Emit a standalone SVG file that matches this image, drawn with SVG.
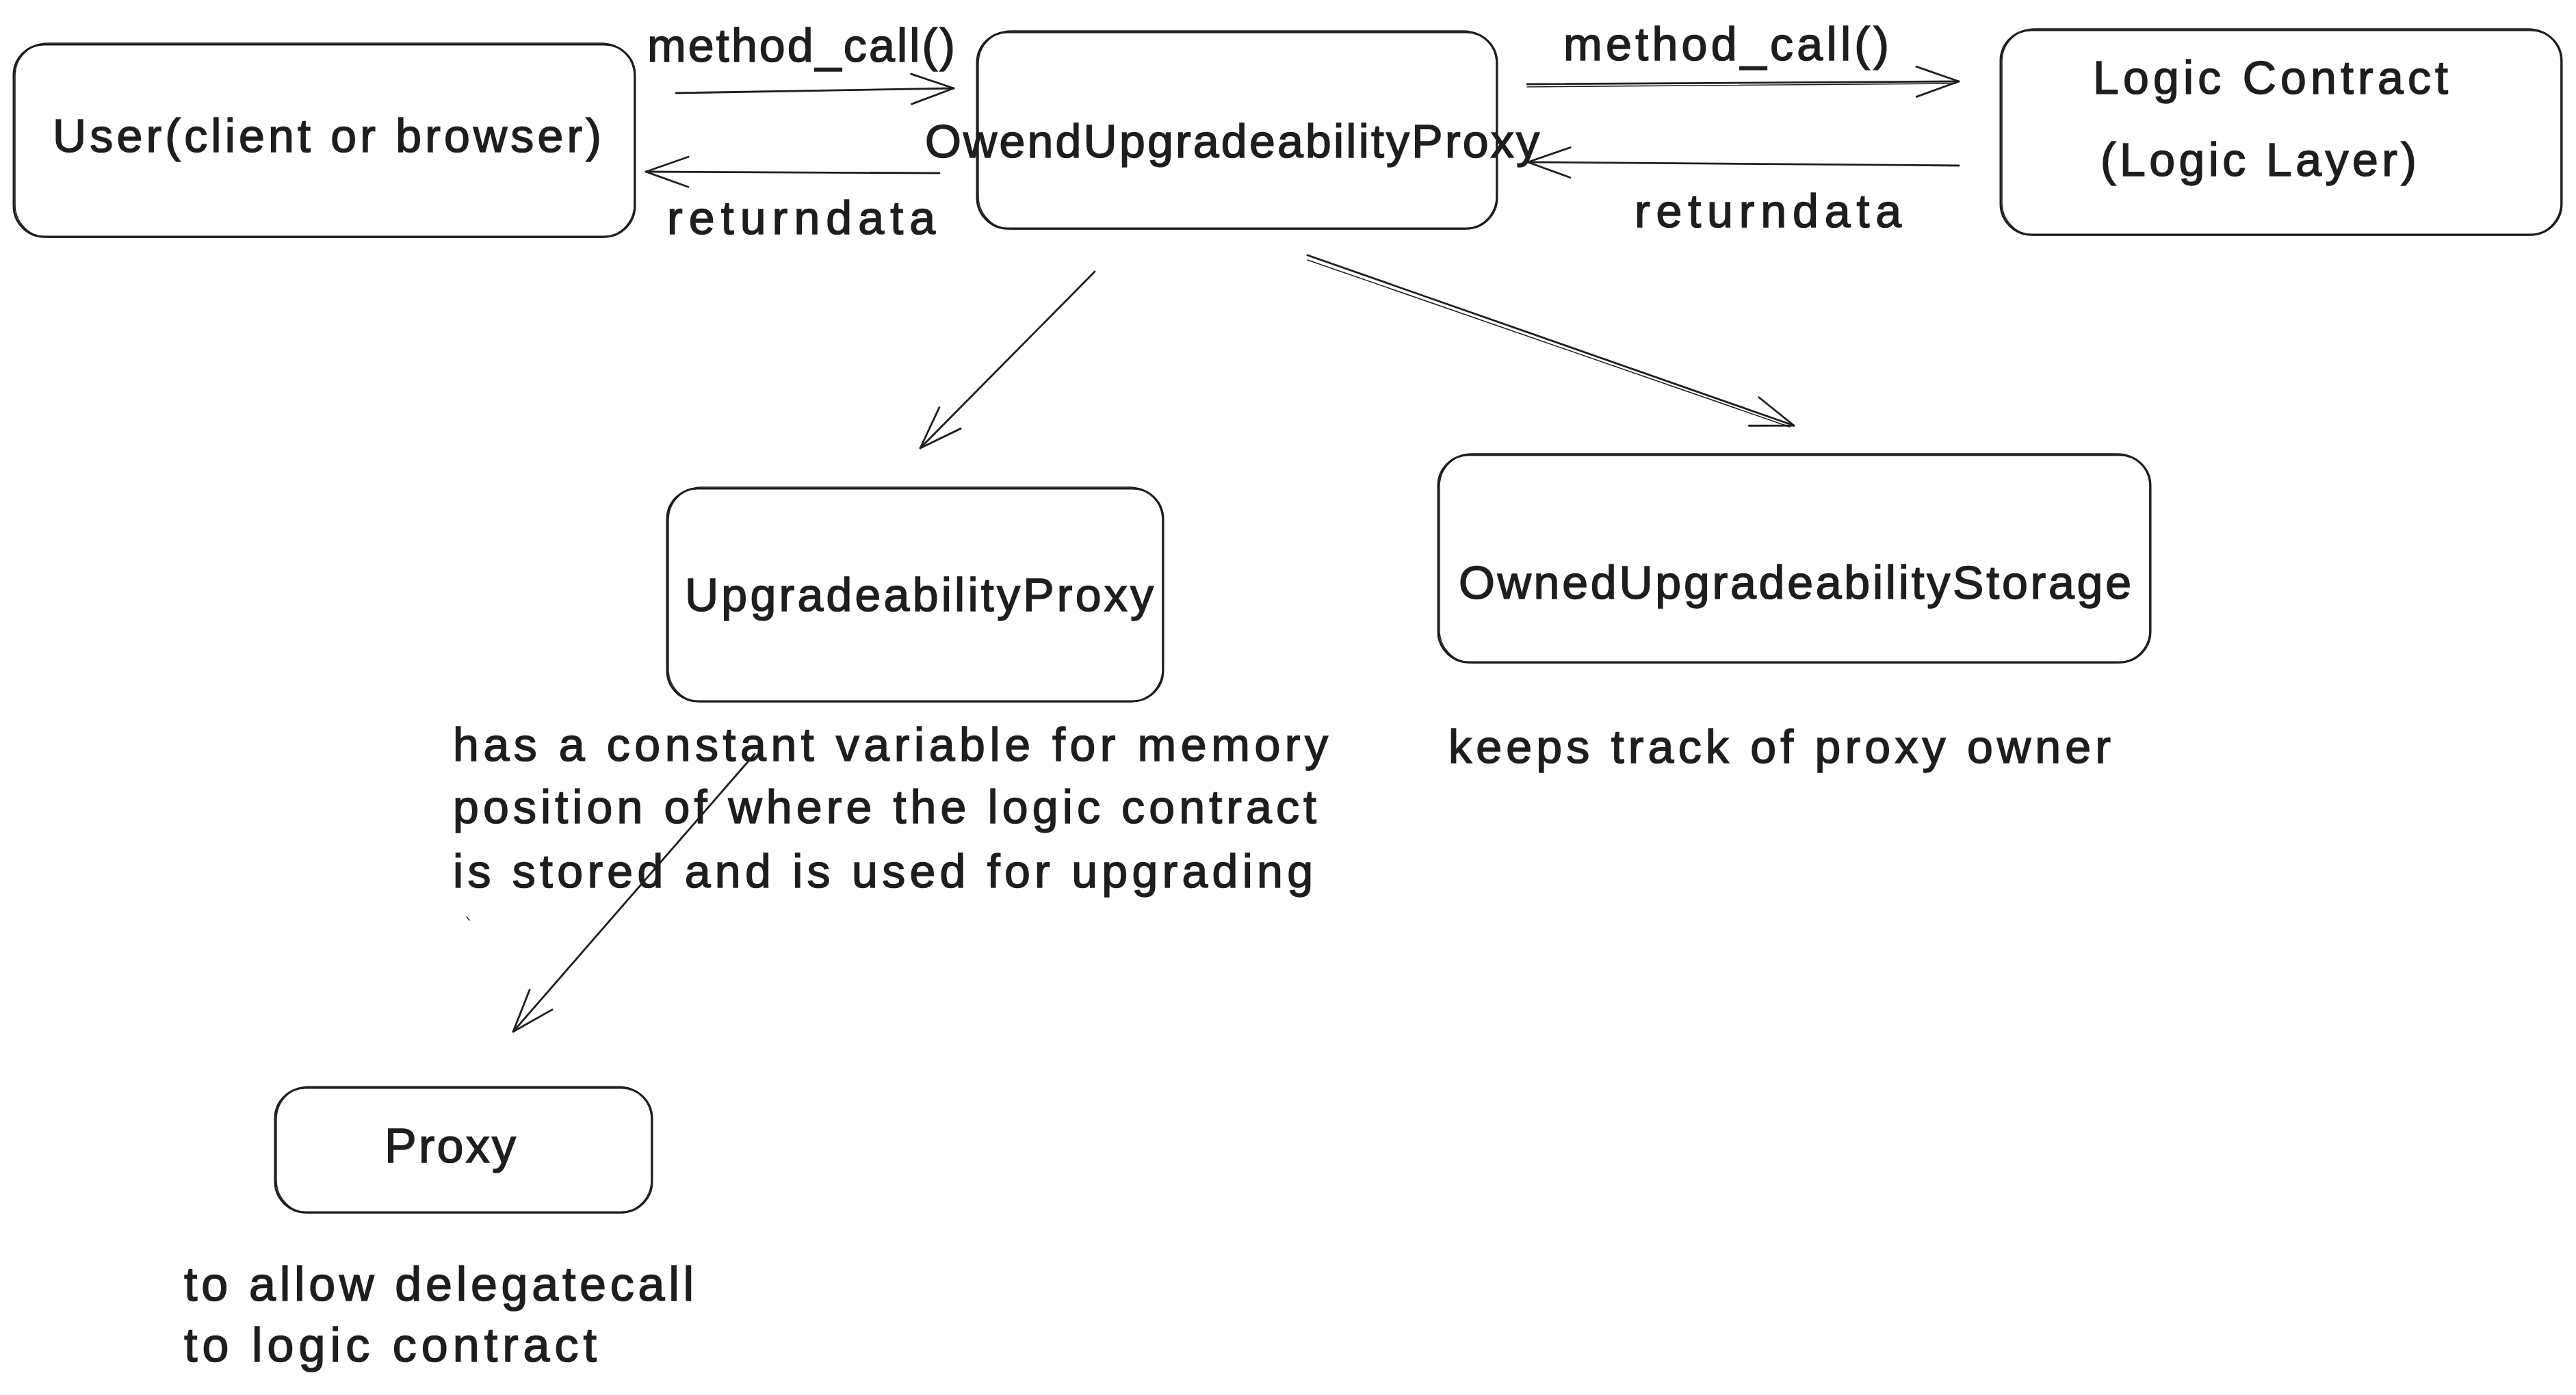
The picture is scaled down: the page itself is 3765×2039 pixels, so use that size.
<svg xmlns="http://www.w3.org/2000/svg" width="3765" height="2039" viewBox="0 0 3765 2039">
  <style>
    .box { fill: none; stroke: #1e1e1e; stroke-width: 3; }
    .sk { fill: none; stroke: #1e1e1e; stroke-width: 1.5; }
    .ln { fill: none; stroke: #1e1e1e; stroke-width: 2.8; stroke-linecap: round; }
    .ln2 { fill: none; stroke: #1e1e1e; stroke-width: 1.5; stroke-linecap: round; }
    .t { font-family: "Liberation Sans", Arial, sans-serif; font-size: 68px; fill: #1e1e1e; stroke: #1e1e1e; stroke-width: 1.6; }
    .t2 { font-family: "Liberation Sans", Arial, sans-serif; font-size: 70px; fill: #1e1e1e; stroke: #1e1e1e; stroke-width: 1.6; }
  </style>
  <defs>
    <marker id="arr" markerUnits="userSpaceOnUse" markerWidth="90" markerHeight="70" viewBox="-75 -35 90 70" refX="0" refY="0" orient="auto">
      <path d="M -62 -22 L 0 0 L -62 22" fill="none" stroke="#1e1e1e" stroke-width="2.8" stroke-linecap="round" stroke-linejoin="round"/>
    </marker>
  </defs>
  <rect x="0" y="0" width="3765" height="2039" fill="#ffffff"/>

  <g id="node-user">
    <rect class="box" x="20" y="65" width="908" height="281" rx="45"/>
    <rect class="sk" x="22" y="63" width="905" height="284" rx="48"/>
    <text class="t" x="77" y="222" textLength="802">User(client or browser)</text>
  </g>

  <g id="node-owend-proxy">
    <rect class="box" x="1428" y="47" width="760" height="287" rx="45"/>
    <rect class="sk" x="1430" y="45" width="757" height="290" rx="48"/>
    <text class="t" x="1352" y="230" textLength="898">OwendUpgradeabilityProxy</text>
  </g>

  <g id="node-logic">
    <rect class="box" x="2924" y="44" width="820" height="299" rx="45"/>
    <rect class="sk" x="2926" y="42" width="817" height="302" rx="48"/>
    <text class="t" x="3059" y="137" textLength="519">Logic Contract</text>
    <text class="t" x="3070" y="257" textLength="462">(Logic Layer)</text>
  </g>

  <g id="node-upgradeability-proxy">
    <rect class="box" x="975" y="714" width="725" height="311" rx="45"/>
    <rect class="sk" x="977" y="712" width="722" height="314" rx="48"/>
    <text class="t" x="1001" y="893" textLength="685">UpgradeabilityProxy</text>
  </g>

  <g id="note-upgradeability-proxy">
    <text class="t" x="662" y="1112" textLength="1279">has a constant variable for memory</text>
    <text class="t" x="662" y="1203" textLength="1262">position of where the logic contract</text>
    <text class="t" x="662" y="1297" textLength="1257">is stored and is used for upgrading</text>
  </g>

  <g id="node-owned-storage">
    <rect class="box" x="2102" y="665" width="1041" height="303" rx="45"/>
    <rect class="sk" x="2104" y="663" width="1038" height="306" rx="48"/>
    <text class="t" x="2132" y="875" textLength="983">OwnedUpgradeabilityStorage</text>
  </g>

  <g id="note-owned-storage">
    <text class="t" x="2117" y="1115" textLength="968">keeps track of proxy owner</text>
  </g>

  <g id="node-proxy">
    <rect class="box" x="402" y="1590" width="551" height="182" rx="45"/>
    <rect class="sk" x="404" y="1588" width="548" height="185" rx="48"/>
    <text class="t2" x="562" y="1699" textLength="192">Proxy</text>
  </g>

  <g id="note-proxy">
    <text class="t2" x="269" y="1901" textLength="745">to allow delegatecall</text>
    <text class="t2" x="269" y="1990" textLength="603">to logic contract</text>
  </g>

  <g id="mark">
    <path class="ln2" d="M 682 1340 L 686 1345"/>
  </g>

  <g id="connectors">
    <g id="edge-user-to-proxy">
      <path class="ln" d="M 988 136 L 1394 129" marker-end="url(#arr)"/>
      <text class="t" x="946" y="90" textLength="450">method_call()</text>
    </g>
    <g id="edge-proxy-to-user">
      <path class="ln" d="M 1373 253 L 944 251" marker-end="url(#arr)"/>
      <text class="t" x="975" y="342" textLength="392">returndata</text>
    </g>
    <g id="edge-proxy-to-logic">
      <path class="ln" d="M 2232 123 L 2863 119" marker-end="url(#arr)"/>
      <path class="ln2" d="M 2232 127 L 2858 122"/>
      <text class="t" x="2285" y="88" textLength="476">method_call()</text>
    </g>
    <g id="edge-logic-to-proxy">
      <path class="ln" d="M 2863 242 L 2233 237" marker-end="url(#arr)"/>
      <text class="t" x="2389" y="332" textLength="390">returndata</text>
    </g>
    <g id="edge-owend-to-upgradeability">
      <path class="ln" d="M 1600 397 L 1345 655" marker-end="url(#arr)"/>
    </g>
    <g id="edge-owend-to-storage">
      <path class="ln" d="M 1911 373 L 2622 622" marker-end="url(#arr)"/>
      <path class="ln2" d="M 1911 380 L 2616 624"/>
    </g>
    <g id="edge-upgradeability-to-proxy">
      <path class="ln" d="M 1103 1102 L 750 1508" marker-end="url(#arr)"/>
    </g>
  </g>
</svg>
